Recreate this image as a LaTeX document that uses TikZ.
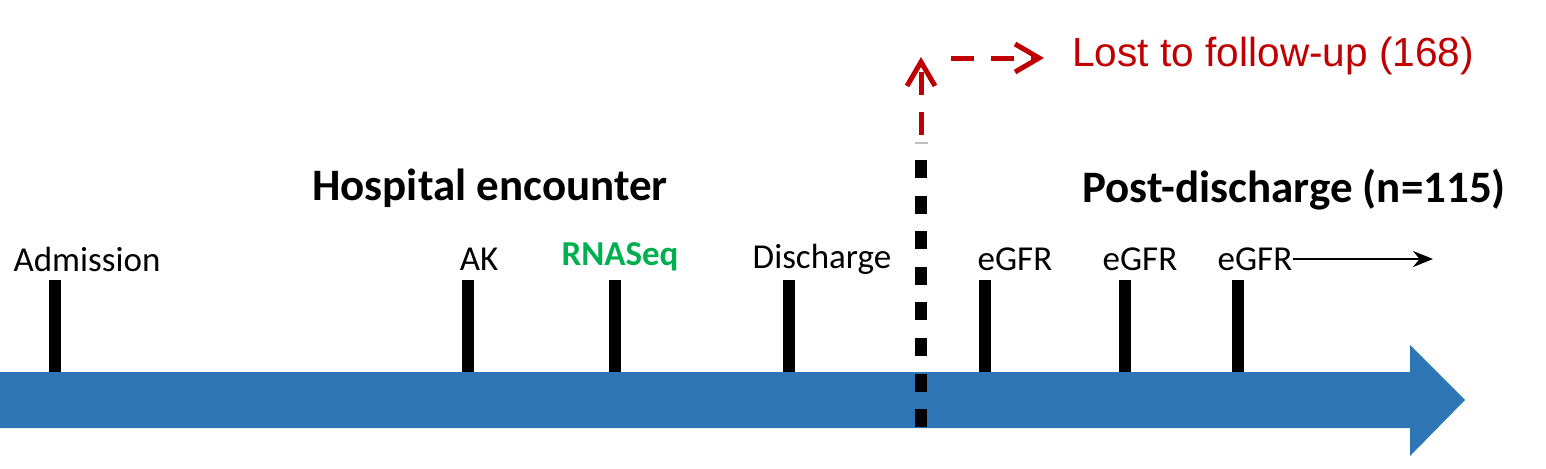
\documentclass[tikz,border=0pt]{standalone}
\usepackage{fontspec}
\setmainfont{Carlito}
\newfontfamily\redfont{Liberation Sans}
\usetikzlibrary{arrows.meta}
\definecolor{bandblue}{RGB}{46,117,182}
\definecolor{seqgreen}{RGB}{0,176,80}
\definecolor{lostred}{RGB}{192,0,0}

\begin{document}
\begin{tikzpicture}[
            x=0.5pt,
            y=-0.5pt,
            line join=miter,
            >=Stealth,
            tick/.style={line width=6pt},
            lbl/.style={inner sep=0pt, font=\fontsize{17.5}{19}\selectfont},
            phase/.style={inner sep=0pt, font=\fontsize{22.5}{25}\selectfont\bfseries},
            lostline/.style={lostred, line width=2.5pt, dash pattern=on 11.5pt off 8.5pt,
                             -{Straight Barb[length=12pt,width=14pt,line width=2.5pt]}}
        ]
        \useasboundingbox (0,0) rectangle (1546,468);

        % Timeline band with its head
        \fill[bandblue] (0,372) -- (1410,372) -- (1410,345) -- (1465,400)
            -- (1410,456) -- (1410,428) -- (0,428) -- cycle;

        % Events on the timeline
        \foreach \x/\lx/\name/\txt in {55/87/adm/Admission, 468/479/ak/AK,
                789/822/dis/Discharge, 985/1015/egfra/eGFR,
                1125/1140/egfrb/eGFR, 1238/1255/egfrc/eGFR}{
            \draw[tick] (\x,280) -- (\x,372);
            \node[lbl] (\name) at (\lx,259) {\txt};
        }
        \draw[tick] (615,280) -- (615,372);
        \node[lbl, text=seqgreen, font=\fontsize{17.5}{19}\selectfont\bfseries]
            (rnaseq) at (620,257) {RNASeq};

        % Follow-up continues
        \coordinate (later) at (1433,0);
        \draw[line width=1pt, -{Stealth[length=10pt,width=8pt]}]
            (egfrc.east) -- (egfrc.east -| later);

        % Phase headings
        \node[phase] (hosp) at (490,188) {Hospital encounter};
        \node[phase] (post) at (1294,190) {Post-discharge (n=115)};

        % Discharge divider
        \draw[line width=6pt, dash pattern=on 9pt off 8.8pt] (921,160) -- (921,428);
        \draw[gray!50, line width=1pt] (915,143) -- (928,143);

        % Lost to follow-up
        \coordinate (cut) at (921,135);
        \coordinate (up) at (921,57);
        \coordinate (side) at (951,58);
        \coordinate (sidetip) at (1044,58);
        \node[inner sep=0pt, anchor=west, text=lostred, font=\fontsize{20.3}{22}\redfont]
            (lost) at (1072,56) {Lost to follow-up (168)};
        \draw[lostline] (cut) -- (up);
        \draw[lostline] (side) -- (sidetip);

    \end{tikzpicture}
\end{document}
